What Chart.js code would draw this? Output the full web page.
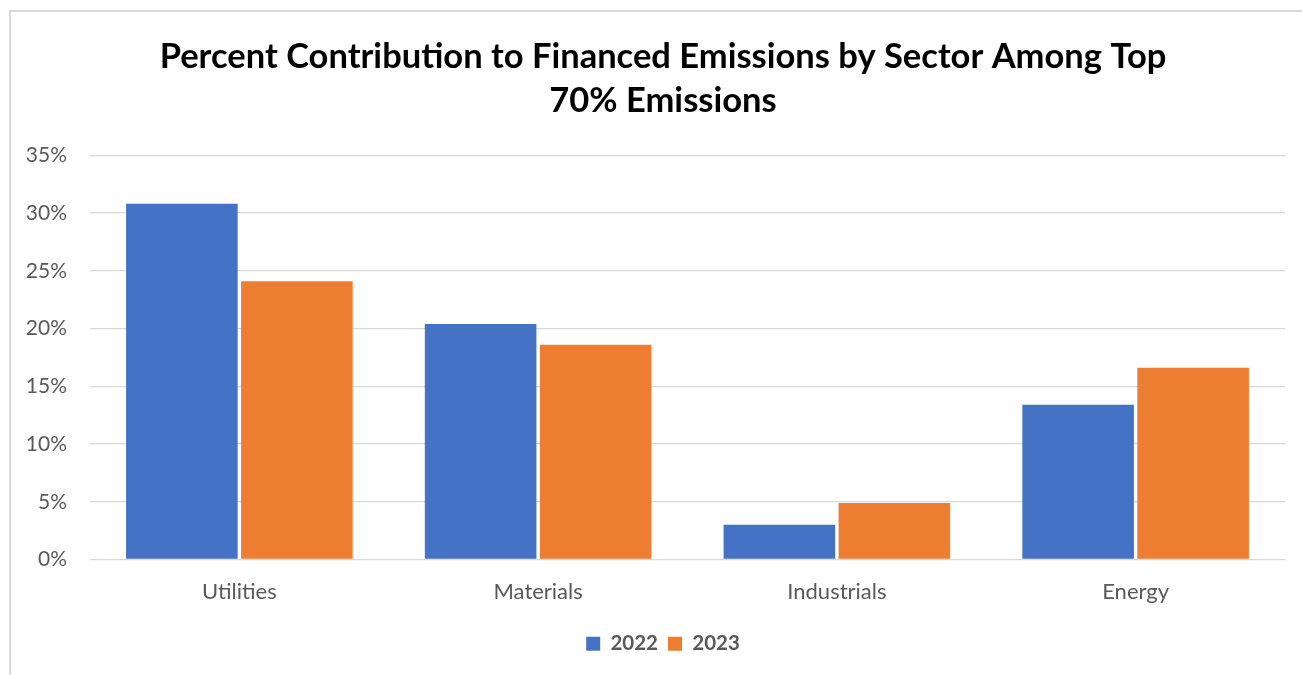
<!DOCTYPE html>
<html>
<head>
<meta charset="utf-8">
<script src="https://cdn.jsdelivr.net/npm/chart.js@4.4.1/dist/chart.umd.min.js"></script>
<style>
  html, body { margin: 0; padding: 0; background: #fff; overflow: hidden; }
  #frame {
    position: absolute; left: 9px; top: 10px; width: 1400px; height: 800px;
    border: 2px solid #d9d9d9; box-sizing: border-box;
  }
  #wrap { position: absolute; left: 0; top: 0; width: 1326px; height: 675px; }
</style>
</head>
<body>
<div id="frame"></div>
<div id="wrap"><canvas id="grafico"></canvas></div>
<script>
const setores = ['Utilities', 'Materials', 'Industrials', 'Energy'];
const valores2022 = [30.8, 20.4, 3.0, 13.4];
const valores2023 = [24.1, 18.6, 4.9, 16.6];
const ticksY = [0, 5, 10, 15, 20, 25, 30, 35];

const FONTE = "Lato, 'Open Sans', sans-serif";
const CINZA = '#595959';

// titulo e legenda ficam centrados no quadro inteiro (que passa da janela)
const deslocaCaixas = {
  id: 'deslocaCaixas',
  afterLayout(chart) {
    chart.titleBlock.left += 41;
    chart.legend.left += 41;
  }
};

new Chart(document.getElementById('grafico'), {
  type: 'bar',
  data: {
    labels: setores,
    datasets: [
      { label: '2022', data: valores2022, backgroundColor: '#4472C4',
        categoryPercentage: 0.77, barPercentage: 0.97 },
      { label: '2023', data: valores2023, backgroundColor: '#ED7D31',
        categoryPercentage: 0.77, barPercentage: 0.97 }
    ]
  },
  plugins: [deslocaCaixas],
  options: {
    responsive: true,
    maintainAspectRatio: false,
    animation: false,
    layout: { padding: { left: 0, right: 41, top: 0, bottom: 11 } },
    plugins: {
      title: {
        display: true,
        text: ['Percent Contribution to Financed Emissions by Sector Among Top', '70% Emissions'],
        color: '#000',
        font: { family: FONTE, size: 34.5, weight: 'bold', lineHeight: 1.28 },
        padding: { top: 35, bottom: 32 }
      },
      legend: {
        position: 'bottom',
        labels: {
          color: CINZA,
          font: { family: FONTE, size: 20.5, weight: 'bold' },
          boxWidth: 14, boxHeight: 14, padding: 10
        }
      },
      tooltip: { enabled: false }
    },
    scales: {
      x: {
        grid: { display: false, drawTicks: false },
        border: { display: false },
        ticks: { color: CINZA, font: { family: FONTE, size: 22 }, padding: 19 },
        afterFit: s => { s.height = 64; }
      },
      y: {
        min: 0, max: 35,
        afterBuildTicks: s => { s.ticks = ticksY.map(v => ({ value: v })); },
        grid: { color: '#d9d9d9', lineWidth: 1.3, drawTicks: false },
        border: { display: false },
        ticks: { color: CINZA, font: { family: FONTE, size: 21 }, padding: 23,
                 callback: v => v + '%' },
        afterFit: s => { s.width = 90; }
      }
    }
  }
});
</script>
</body>
</html>
